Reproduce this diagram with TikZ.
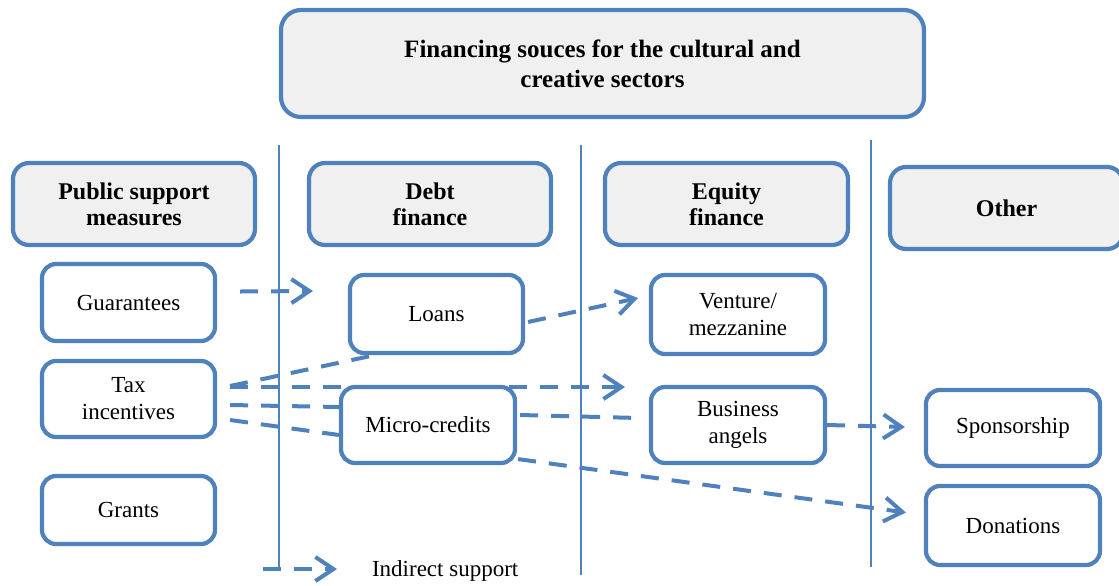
\documentclass[tikz,border=0pt]{standalone}
\usepackage{fontspec}
\setmainfont{Liberation Serif}
\usetikzlibrary{arrows.meta,backgrounds}
\definecolor{frame}{RGB}{79,129,189}
\definecolor{headfill}{RGB}{240,240,240}
\tikzset{
  base/.style={draw=frame, line width=2.1pt, align=center, inner sep=0pt},
  headbox/.style={base, fill=headfill, rounded corners=8pt,
    font=\fontsize{12}{13}\selectfont\bfseries},
  titlebox/.style={base, fill=headfill, rounded corners=10pt,
    font=\fontsize{12.5}{15}\selectfont\bfseries},
  itembox/.style={base, fill=white, rounded corners=7pt,
    font=\fontsize{11.5}{13.5}\selectfont},
  divider/.style={draw=frame, line width=1pt},
  link/.style={draw=frame, line width=2pt, dash pattern=on 9pt off 6.5pt},
  arrowed/.style={link, -{Straight Barb[length=9pt,width=12pt]}},
}
\begin{document}
\begin{tikzpicture}[x=0.5pt,y=-0.5pt]
\useasboundingbox (0,0) rectangle (1119,585);

% boxes
\node[titlebox, minimum width=321.5pt, minimum height=53.5pt] (title) at (602.5,63.5)
  {Financing souces for the cultural and\\creative sectors};

\node[headbox, minimum width=121pt, minimum height=41pt] (pub) at (134,204) {Public support\\measures};
\node[headbox, minimum width=121pt, minimum height=41pt] (debt) at (430,204) {Debt\\finance};
\node[headbox, minimum width=121.5pt, minimum height=41pt] (equity) at (726.5,204) {Equity\\finance};
\node[headbox, minimum width=116.5pt, minimum height=41pt] (other) at (1006.5,208) {Other};

\node[itembox, minimum width=86.5pt, minimum height=38.5pt] (guar) at (128.5,302.5) {Guarantees};
\node[itembox, minimum width=86.5pt, minimum height=38pt] (tax) at (128.5,399) {Tax\\incentives};
\node[itembox, minimum width=86.5pt, minimum height=34pt] (grants) at (128.5,510) {Grants};

\node[itembox, minimum width=86.5pt, minimum height=39pt] (loans) at (436.5,314) {Loans};
\node[itembox, minimum width=87pt, minimum height=38pt] (micro) at (428,425) {Micro-credits};

\node[itembox, minimum width=87pt, minimum height=39.5pt] (venture) at (738,314.5) {Venture/\\mezzanine};
\node[itembox, minimum width=87pt, minimum height=38pt] (angels) at (738,425) {Business\\angels};

\node[itembox, minimum width=87pt, minimum height=38pt] (spons) at (1013,428) {Sponsorship};
\node[itembox, minimum width=87pt, minimum height=39.5pt] (donat) at (1013,525.5) {Donations};

% legend
\coordinate (legStart) at (263,569);
\coordinate (legEnd) at (337,569);
\node[anchor=west, font=\fontsize{11.5}{13.5}\selectfont] (legText) at (365,571) {Indirect support};

\begin{pgfonlayer}{background}
  % column dividers
  \draw[divider] (279,145) -- (279,569);
  \draw[divider] (581,145) -- (581,575);
  \draw[divider] (871,140) -- (871,567);

  % free arrow ends
  \coordinate (guarEnd) at (313,291);
  \coordinate (taxEnd) at (625,387);
  \coordinate (ventEnd) at (638,298);

  \draw[arrowed] ([shift={(23,-11)}]guar.east) -- (guarEnd);
  \draw[link] ([shift={(13,-13)}]tax.east) -- ([shift={(27,0)}]loans.south west);
  \draw[arrowed] ([shift={(13,-12)}]tax.east) -- (taxEnd);
  \draw[link] ([shift={(13,6)}]tax.east) -- ([shift={(0,-18)}]micro.west);
  \draw[link] ([shift={(13,21)}]tax.east) -- ([shift={(0,10)}]micro.west);
  \draw[arrowed] ([shift={(3,8)}]loans.east) -- (ventEnd);
  \draw[link] ([shift={(3,-10)}]micro.east) -- ([shift={(-10,-7)}]angels.west);
  \draw[arrowed] ([shift={(1,-6)}]micro.south east) -- ([shift={(-18,-13)}]donat.west);
  \draw[arrowed] (angels.east) -- ([shift={(-19,-1)}]spons.west);
  \draw[arrowed] (legStart) -- (legEnd);
\end{pgfonlayer}
\end{tikzpicture}
\end{document}
